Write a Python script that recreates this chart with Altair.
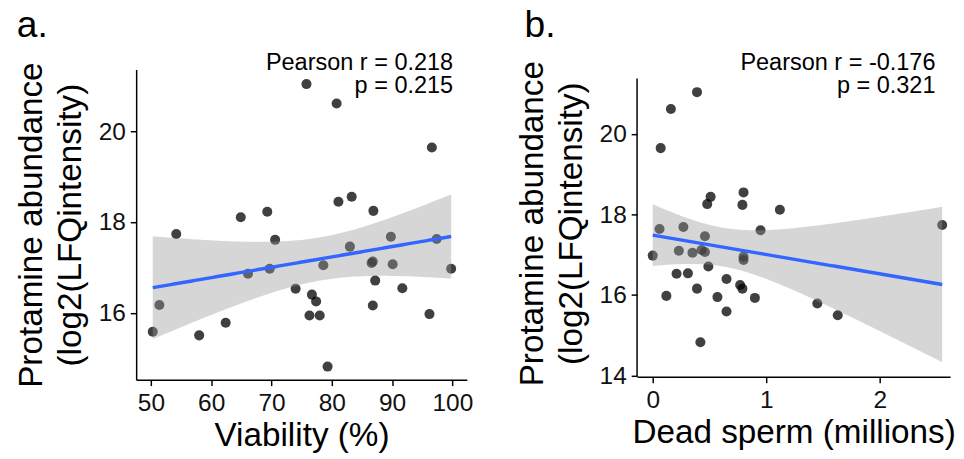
import altair as alt
import numpy as np
import pandas as pd

# ---- data ----
A_VIAB = [75.8, 80.8, 96.6, 81.1, 83.3, 86.9, 64.9, 69.3, 54.2, 70.6,
          89.8, 97.4, 83.0, 78.6, 86.6, 86.8, 90.1, 99.8, 66.1, 69.7,
          87.2, 74.0, 91.7, 76.7, 77.4, 51.4, 86.8, 76.3, 78.0, 96.2,
          62.4, 50.3, 58.0, 79.3]
A_PROT = [21.05, 20.62, 19.65, 18.45, 18.56, 18.25, 18.11, 18.23, 17.74, 17.61,
          17.68, 17.63, 17.46, 17.05, 17.10, 17.13, 17.07, 16.97, 16.86, 16.97,
          16.71, 16.53, 16.54, 16.40, 16.25, 16.17, 16.16, 15.94, 15.94, 15.97,
          15.78, 15.58, 15.50, 14.81]

B_DEAD = [0.39, 0.16, 0.07, 0.80, 0.51, 0.48, 0.79, 1.12, 2.55, 0.06,
          0.27, 0.95, 0.46, 0.00, 0.23, 0.35, 0.43, 0.46, 0.80, 0.80,
          0.49, 0.21, 0.31, 0.65, 0.77, 0.79, 0.39, 0.12, 0.57, 0.90,
          1.45, 0.65, 1.63, 0.42]
B_PROT = [21.04, 20.62, 19.65, 18.55, 18.44, 18.26, 18.24, 18.12, 17.74, 17.64,
          17.69, 17.61, 17.46, 16.98, 17.10, 17.05, 17.12, 17.07, 16.95, 16.87,
          16.71, 16.53, 16.54, 16.40, 16.25, 16.16, 16.16, 15.98, 15.95, 15.93,
          15.79, 15.59, 15.50, 14.83]

A_XTICKS = [50, 60, 70, 80, 90, 100]
A_YTICKS = [16, 18, 20]
B_XTICKS = [0, 1, 2]
B_YTICKS = [14, 16, 18, 20]

A_ANN = ["Pearson r = 0.218", "p = 0.215"]
B_ANN = ["Pearson r = -0.176", "p = 0.321"]

Y_TITLE = ["Protamine abundance", "(log2(LFQintensity)"]

FONT = "Liberation Sans"


def fit_band(x, y, n=100):
    """Linear fit with 95% confidence band (like geom_smooth(method='lm'))."""
    x = np.asarray(x, float)
    y = np.asarray(y, float)
    m = len(x)
    slope, icpt = np.polyfit(x, y, 1)
    resid = y - (icpt + slope * x)
    s = np.sqrt(np.sum(resid ** 2) / (m - 2))
    xm = x.mean()
    sxx = np.sum((x - xm) ** 2)
    xs = np.linspace(x.min(), x.max(), n)
    fit = icpt + slope * xs
    se = s * np.sqrt(1.0 / m + (xs - xm) ** 2 / sxx)
    t = 2.037  # t(0.975, df=32)
    return pd.DataFrame({"x": xs, "y": fit, "lo": fit - t * se, "hi": fit + t * se})


def panel(xv, yv, xtitle, xdom, ydom, xticks, yticks, w, h, label, label_x, ann,
          ann_x, axis_top=None):
    pts = pd.DataFrame({"x": xv, "y": yv})
    band = fit_band(xv, yv)
    xs = alt.Scale(domain=xdom, nice=False, zero=False)
    ys = alt.Scale(domain=ydom, nice=False, zero=False)
    xax = alt.Axis(values=xticks, title=xtitle, labelFlush=False, labelOverlap=False)
    yax = alt.Axis(values=yticks, title=Y_TITLE, labelOverlap=False,
                   domain=axis_top is None)
    X = alt.X("x:Q", scale=xs, axis=xax)

    points = alt.Chart(pts).mark_circle(size=105, color="black", opacity=0.75).encode(
        x=X, y=alt.Y("y:Q", scale=ys, axis=yax))
    area = alt.Chart(band).mark_area(color="#999999", opacity=0.4, clip=True).encode(
        x=X, y=alt.Y("lo:Q", scale=ys, axis=yax), y2="hi:Q")
    line = alt.Chart(band).mark_line(color="#3366FF", strokeWidth=3.5, clip=True).encode(
        x=X, y=alt.Y("y:Q", scale=ys, axis=yax))
    note = alt.Chart(pd.DataFrame({"k": [0]})).mark_text(
        text=ann, align="right", baseline="alphabetic", fontSize=24, lineHeight=24,
        font=FONT, color="black").encode(x=alt.value(ann_x), y=alt.value(0))
    lab = alt.Chart(pd.DataFrame({"t": [label]})).mark_text(
        align="left", baseline="alphabetic", fontSize=38, font=FONT, color="black").encode(
        x=alt.value(label_x), y=alt.value(-33), text="t:N")
    layers = [points, area, line, note, lab]
    if axis_top is not None:
        rule = alt.Chart(pd.DataFrame({"t": [0]})).mark_rule(
            color="black", strokeWidth=1.5).encode(
            x=alt.value(0), y=alt.value(axis_top), y2=alt.value(h))
        layers.append(rule)
    return alt.layer(*layers).properties(width=w, height=h)


pa = panel(A_VIAB, A_PROT, "Viability (%)", [47.55, 102.4], [14.52, 21.37],
           A_XTICKS, A_YTICKS, 338, 317, "a.", -122, A_ANN, 324)
# panel b: axis line starts 9 px below panel a's top
pb = panel(B_DEAD, B_PROT, "Dead sperm (millions)", [-0.138, 2.62], [13.97, 21.60],
           B_XTICKS, B_YTICKS, 320, 314, "b.", -115, B_ANN, 305, axis_top=9)

chart = alt.hconcat(pa, pb, spacing=43).configure(
    padding={"left": 7, "top": -5, "right": 0, "bottom": 0}, font=FONT
).configure_view(stroke=None).configure_axis(
    domainColor="black", domainWidth=1.5, tickColor="black", tickWidth=1.5, tickSize=6,
    labelColor="#111111", labelFontSize=25, labelFont=FONT,
    titleFont=FONT, titleFontSize=34, titleFontWeight="normal", titleColor="black",
    titleLineHeight=40, grid=False
).configure_axisX(labelPadding=5, titlePadding=4).configure_axisY(
    labelPadding=5, titlePadding=11)

chart.save("out.html", embed_options={"renderer": "svg", "actions": False})
